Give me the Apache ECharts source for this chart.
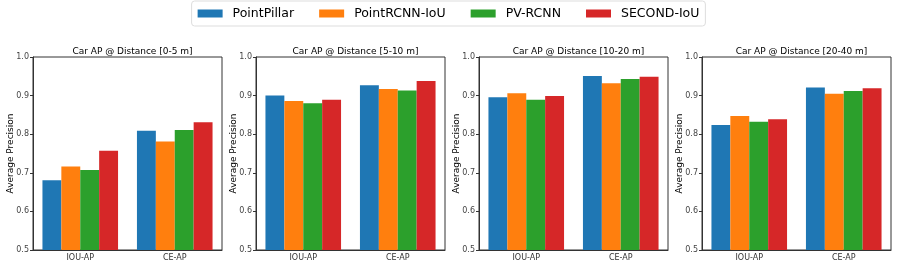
<!DOCTYPE html>
<html><head><meta charset="utf-8">
<script src="https://cdn.jsdelivr.net/npm/echarts@6/dist/echarts.min.js"></script>
<style>html,body{margin:0;padding:0;background:#fff}#c{width:897px;height:269px}</style>
</head><body><div id="c"></div>
<script>
const categories = ['IOU-AP', 'CE-AP'];
const panelTitles = ['Car AP @ Distance [0-5 m]', 'Car AP @ Distance [5-10 m]', 'Car AP @ Distance [10-20 m]', 'Car AP @ Distance [20-40 m]'];
const modelNames = ['PointPillar', 'PointRCNN-IoU', 'PV-RCNN', 'SECOND-IoU'];
// values per panel: [IOU-AP, CE-AP]
const pointPillar  = [[0.681, 0.809], [0.900, 0.927], [0.896, 0.951], [0.824, 0.921]];
const pointRCNNIoU = [[0.716, 0.781], [0.886, 0.917], [0.906, 0.932], [0.847, 0.905]];
const pvRCNN       = [[0.707, 0.811], [0.880, 0.913], [0.889, 0.943], [0.832, 0.912]];
const secondIoU    = [[0.757, 0.831], [0.889, 0.938], [0.899, 0.949], [0.839, 0.919]];
const yTicks = [0.5, 0.6, 0.7, 0.8, 0.9, 1.0];

const modelData = [pointPillar, pointRCNNIoU, pvRCNN, secondIoU];
const colors = ['#1f77b4', '#ff7f0e', '#2ca02c', '#d62728'];
const font = 'DejaVu Sans';
const lefts = [33, 256, 479, 702];
const gw = 189, gt = 57, gh = 193;

const grids = [], xAxes = [], yAxes = [], titles = [], series = [];
lefts.forEach((l, i) => {
  grids.push({left: l, top: gt, width: gw, height: gh, show: true, borderColor: '#333', borderWidth: 1, backgroundColor: 'transparent'});
  titles.push({text: panelTitles[i], left: l + gw / 2, textAlign: 'center', top: 42,
    textStyle: {fontFamily: font, fontSize: 9, fontWeight: 'normal', color: '#000'}});
  xAxes.push({type: 'category', gridIndex: i, data: categories,
    axisLine: {lineStyle: {color: '#333'}}, axisTick: {alignWithLabel: true, length: 3, lineStyle: {color: '#333'}},
    axisLabel: {fontFamily: font, fontSize: 8, color: '#333', margin: 4}});
  yAxes.push({type: 'value', gridIndex: i, min: yTicks[0], max: yTicks[yTicks.length - 1], interval: 0.1,
    name: 'Average Precision', nameLocation: 'middle', nameGap: 18, nameMoveOverlap: false,
    nameTextStyle: {fontFamily: font, fontSize: 9, color: '#000'},
    axisLine: {show: true, lineStyle: {color: '#333'}}, axisTick: {show: true, length: 3, lineStyle: {color: '#333'}},
    splitLine: {show: false},
    axisLabel: {fontFamily: font, fontSize: 8, color: '#444', margin: 4, formatter: v => v.toFixed(1)}});
  modelData.forEach((d, m) => {
    series.push({type: 'bar', name: modelNames[m], xAxisIndex: i, yAxisIndex: i, data: d[i],
      itemStyle: {color: colors[m]}, barGap: '0%', barCategoryGap: '20%'});
  });
});

const chart = echarts.init(document.getElementById('c'), null, {renderer: 'canvas'});
chart.setOption({
  animation: false,
  color: colors,
  title: titles,
  legend: {data: modelNames, left: 'center', top: 1, itemWidth: 25, itemHeight: 8, itemGap: 25,
    icon: 'rect', borderColor: '#ddd', borderWidth: 1, borderRadius: 3, padding: [6, 6, 6, 6],
    textStyle: {fontFamily: font, fontSize: 12.5, color: '#000', padding: [0, 0, 0, 5]}},
  grid: grids, xAxis: xAxes, yAxis: yAxes, series: series
});
</script></body></html>
